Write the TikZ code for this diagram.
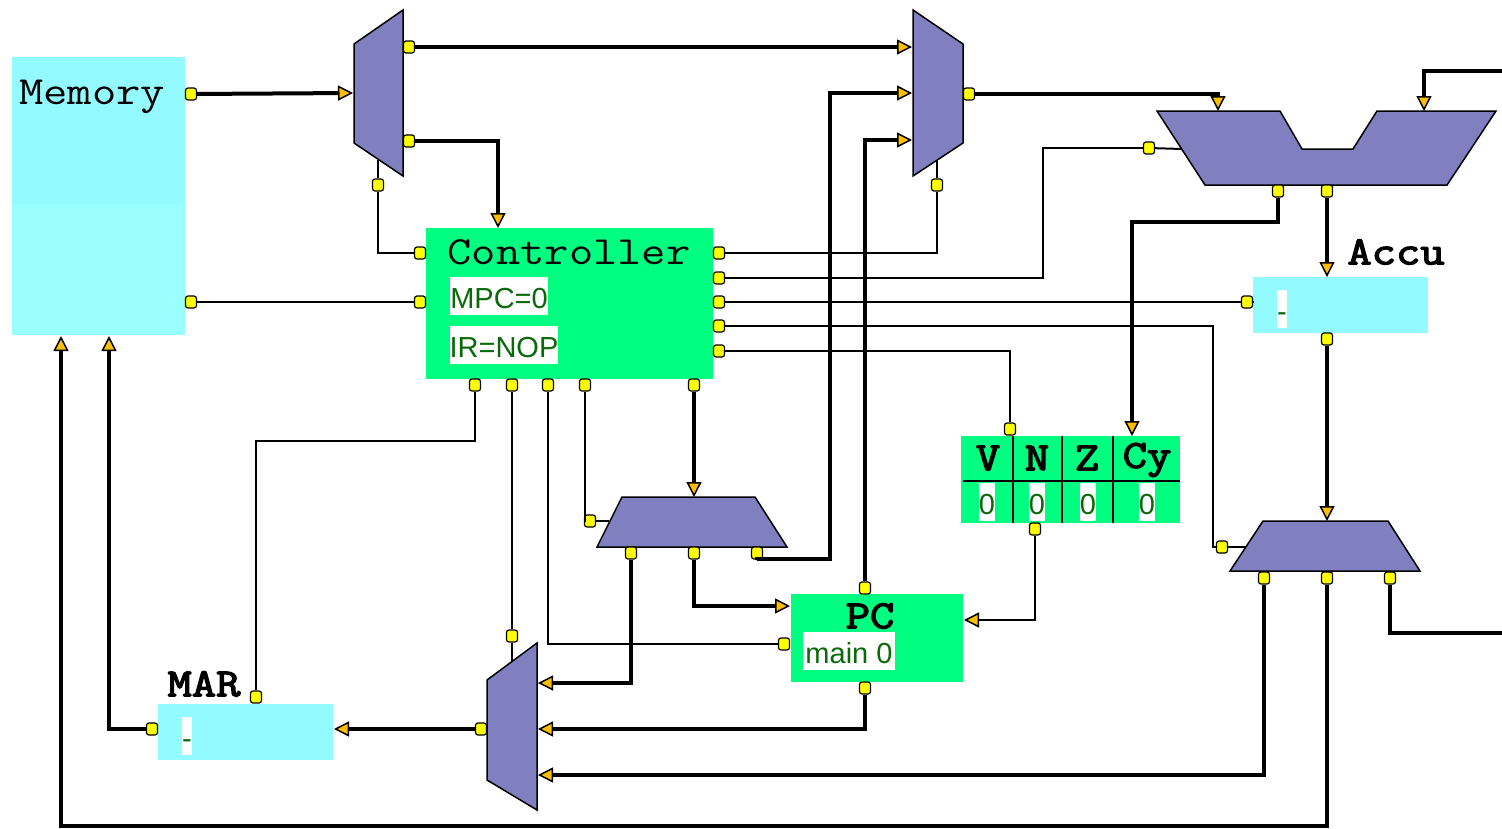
\documentclass[tikz,border=0pt]{standalone}
\usepackage{fontspec}
\setsansfont{Liberation Sans}
\newfontfamily\heavymono[FakeBold=3]{Latin Modern Mono}
\usetikzlibrary{arrows.meta}
\definecolor{cyanup}{HTML}{93FBFF}
\definecolor{cyanlow}{HTML}{99FFFF}
\definecolor{blockgreen}{HTML}{00FF80}
\definecolor{muxblue}{HTML}{8080C0}
\definecolor{valgreen}{HTML}{0A6A0A}
\definecolor{pinyellow}{HTML}{FFFF00}
\definecolor{tiporange}{HTML}{FFBF00}
\newcommand{\widetxt}[1]{\scalebox{1.18}[1]{#1}}
\tikzset{
    block/.style={fill=blockgreen, inner sep=0pt, outer sep=0pt},
    reg/.style={fill=cyanup, inner sep=0pt, outer sep=0pt},
    val/.style={fill=white, text=valgreen, inner sep=0pt, text height=31pt, text depth=7pt, font=\fontsize{29}{29}\selectfont\sffamily},
    title/.style={inner sep=0pt, font=\fontsize{40}{40}\selectfont\ttfamily},
    boldtitle/.style={inner sep=0pt, font=\fontsize{40}{40}\selectfont\heavymono},
    mux/.style={fill=muxblue, draw=black, line width=1.5pt, line join=miter},
    pin/.style={draw=black, fill=pinyellow, line width=1.2pt, rounded corners=2.5pt, inner sep=0pt, minimum width=11pt, minimum height=12pt},
    wire/.style={draw=black, line width=2pt},
    bus/.style={draw=black, line width=4pt},
    head/.style={-{Triangle[length=15pt, width=15pt, line width=1.5pt, color=black, fill=tiporange]}},
}
\begin{document}
\begin{tikzpicture}[x=1pt, y=-1pt]
    \useasboundingbox (0,0) rectangle (1502,828);
    % blocks
    \node[reg, minimum width=173pt, minimum height=278pt, fill=cyanlow] (memory) at (98.5,196) {};
    \node[reg, minimum width=173pt, minimum height=147pt] (memtop) at (98.5,130.5) {};
    \node[block, minimum width=287pt, minimum height=151pt] (controller) at (569.5,303.5) {};
    \node[block, minimum width=172pt, minimum height=88pt] (pc) at (877,638) {};
    \node[block, minimum width=219pt, minimum height=87pt] (flags) at (1070.5,479.5) {};
    \node[reg, minimum width=175pt, minimum height=56pt] (accu) at (1340.5,305) {};
    \node[reg, minimum width=175pt, minimum height=56pt] (mar) at (245.5,732) {};
    % texts
    \node[title] (memtxt) at (92,97) {\widetxt{Memory}};
    \node[title] (ctrltxt) at (569,252) {\widetxt{Controller}};
    \node[boldtitle] (mactxt) at (204,684) {\widetxt{MAR}};
    \node[boldtitle] (acctxt) at (1396,252) {\widetxt{Accu}};
    \node[boldtitle] (pctxt) at (870,616) {\widetxt{PC}};
    \node[boldtitle] (vtxt) at (988,458) {\widetxt{V}};
    \node[boldtitle] (ntxt) at (1037,458) {\widetxt{N}};
    \node[boldtitle] (ztxt) at (1087,458) {\widetxt{Z}};
    \node[boldtitle] (cytxt) at (1147,460) {\widetxt{Cy}};
    \node[val, minimum width=98pt] (mpc) at (499,296) {MPC=0};
    \node[val, minimum width=108pt] (ir) at (504,345) {IR=NOP};
    \node[val, minimum width=92pt] (mainv) at (849,651) {main 0};
    \node[val, minimum width=10pt] (accuv) at (1282,309) {-};
    \node[val, minimum width=10pt] (marv) at (187,736) {-};
    \node[val, minimum width=16pt] (vv) at (987,502) {0};
    \node[val, minimum width=16pt] (nv) at (1037,502) {0};
    \node[val, minimum width=16pt] (zv) at (1088,502) {0};
    \node[val, minimum width=16pt] (cyv) at (1147,502) {0};
    \draw[wire] (963,481) -- (1180,481);
    \draw[wire] (1013,436) -- (1013,523);
    \draw[wire] (1062,436) -- (1062,523);
    \draw[wire] (1113,436) -- (1113,523);
    % muxes
    \draw[mux] (354,44) -- (403,10) -- (403,176) -- (354,143) -- cycle;
    \draw[mux] (913,10) -- (963,44) -- (963,143) -- (913,176) -- cycle;
    \draw[mux] (1157,111) -- (1280,111) -- (1302,149) -- (1353,149) -- (1377,111) -- (1496,111) -- (1447,185) -- (1205,185) -- cycle;
    \draw[mux] (622,497) -- (755,497) -- (787,547) -- (597,547) -- cycle;
    \draw[mux] (1263,521) -- (1388,521) -- (1420,571) -- (1230,571) -- cycle;
    \draw[mux] (487,680) -- (537,643) -- (537,810) -- (487,780) -- cycle;
    % ends on the blocks
    \coordinate (muxAin) at (353,93);
    \coordinate (muxAsel) at (378,160);
    \coordinate (muxBa) at (912,47);
    \coordinate (muxBb) at (912,93);
    \coordinate (muxBc) at (912,140);
    \coordinate (muxBsel) at (937,160);
    \coordinate (ctrlin) at (498,228);
    \coordinate (aluA) at (1218,111);
    \coordinate (aluB) at (1424,111);
    \coordinate (aluS) at (1182,149);
    \coordinate (topright) at (1502,71);
    \coordinate (accuin) at (1327,277);
    \coordinate (accusel) at (1253,302);
    \coordinate (cyin) at (1132,436);
    \coordinate (muxCin) at (694,497);
    \coordinate (muxCsel) at (609,521);
    \coordinate (muxDin) at (1327,521);
    \coordinate (muxDsel) at (1246,547);
    \coordinate (rightout) at (1502,633);
    \coordinate (muxEa) at (538,683);
    \coordinate (muxEb) at (538,729);
    \coordinate (muxEc) at (538,775);
    \coordinate (muxEsel) at (512,661);
    \coordinate (pcin) at (790,606);
    \coordinate (pcflag) at (964,620);
    \coordinate (marin) at (334,729);
    \coordinate (memA) at (61,336);
    \coordinate (memB) at (109,336);
    % pins
    \node[pin] (memout) at (191,94) {};
    \node[pin] (memctl) at (191,302) {};
    \node[pin] (muxAa) at (409,47) {};
    \node[pin] (muxAb) at (409,141) {};
    \node[pin] (muxApin) at (378,185) {};
    \node[pin] (muxBout) at (969,94) {};
    \node[pin] (muxBpin) at (937,185) {};
    \node[pin] (ctrlLa) at (420,253) {};
    \node[pin] (ctrlLb) at (420,302) {};
    \node[pin] (ctrlRa) at (719,253) {};
    \node[pin] (ctrlRb) at (719,278) {};
    \node[pin] (ctrlRc) at (719,302) {};
    \node[pin] (ctrlRd) at (719,326) {};
    \node[pin] (ctrlRe) at (719,351) {};
    \node[pin] (ctrlBa) at (475,385) {};
    \node[pin] (ctrlBb) at (512,385) {};
    \node[pin] (ctrlBc) at (548,385) {};
    \node[pin] (ctrlBd) at (585,385) {};
    \node[pin] (ctrlBe) at (694,385) {};
    \node[pin] (aluSpin) at (1149,148) {};
    \node[pin] (aluOa) at (1278,191) {};
    \node[pin] (aluOb) at (1327,191) {};
    \node[pin] (accupin) at (1247,302) {};
    \node[pin] (accuout) at (1327,339) {};
    \node[pin] (flagV) at (1010,429) {};
    \node[pin] (flagout) at (1035,529) {};
    \node[pin] (muxCpin) at (590,521) {};
    \node[pin] (muxCa) at (631,553) {};
    \node[pin] (muxCb) at (694,553) {};
    \node[pin] (muxCc) at (757,553) {};
    \node[pin] (muxDpin) at (1222,547) {};
    \node[pin] (muxDa) at (1264,578) {};
    \node[pin] (muxDb) at (1327,578) {};
    \node[pin] (muxDc) at (1390,578) {};
    \node[pin] (pctop) at (865,588) {};
    \node[pin] (pcbot) at (865,688) {};
    \node[pin] (pcsel) at (784,644) {};
    \node[pin] (muxEpin) at (512,636) {};
    \node[pin] (muxEout) at (481,729) {};
    \node[pin] (marout) at (152,729) {};
    \node[pin] (marsel) at (256,697) {};
    % thick connectors
    \draw[bus, head] (memout) -- (muxAin);
    \draw[bus, head] (muxAa) -- (muxBa);
    \draw[bus, head] (muxAb) -| (ctrlin);
    \draw[bus, head] (muxBout) -| (aluA);
    \draw[bus, head] (topright) -| (aluB);
    \draw[bus, head] (aluOa) |- (1132,222) -- (cyin);
    \draw[bus, head] (aluOb) -- (accuin);
    \draw[bus, head] (accuout) -- (muxDin);
    \draw[bus, head] (ctrlBe) -- (muxCin);
    \draw[bus, head] (muxCa) |- (muxEa);
    \draw[bus, head] (muxCb) |- (pcin);
    \draw[bus, head] (muxCc) |- (830,559) |- (muxBb);
    \draw[bus, head] (pctop) |- (muxBc);
    \draw[bus, head] (pcbot) |- (muxEb);
    \draw[bus, head] (muxDa) |- (muxEc);
    \draw[bus, head] (muxDb) -- (1327,826) -| (memA);
    \draw[bus] (muxDc) |- (rightout);
    \draw[bus, head] (muxEout) -- (marin);
    \draw[bus, head] (marout) -| (memB);
    % thin connectors
    \draw[wire] (muxAsel) -- (muxApin);
    \draw[wire] (muxApin) |- (ctrlLa);
    \draw[wire] (memctl) -- (ctrlLb);
    \draw[wire] (ctrlRa) -| (muxBpin);
    \draw[wire] (muxBpin) -- (muxBsel);
    \draw[wire] (ctrlRb) -- (1043,278) |- (aluSpin);
    \draw[wire] (aluSpin) -- (aluS);
    \draw[wire] (ctrlRc) -- (accupin);
    \draw[wire] (accupin) -- (accusel);
    \draw[wire] (ctrlRd) -- (1213,326) |- (muxDpin);
    \draw[wire] (muxDpin) -- (muxDsel);
    \draw[wire] (ctrlRe) -| (flagV);
    \draw[wire] (ctrlBa) |- (256,441) -- (marsel);
    \draw[wire] (ctrlBb) -- (muxEpin);
    \draw[wire] (muxEpin) -- (muxEsel);
    \draw[wire] (ctrlBc) |- (pcsel);
    \draw[wire] (ctrlBd) |- (muxCpin);
    \draw[wire] (muxCpin) -- (muxCsel);
    \draw[wire, head] (flagout) |- (pcflag);
\end{tikzpicture}
\end{document}
